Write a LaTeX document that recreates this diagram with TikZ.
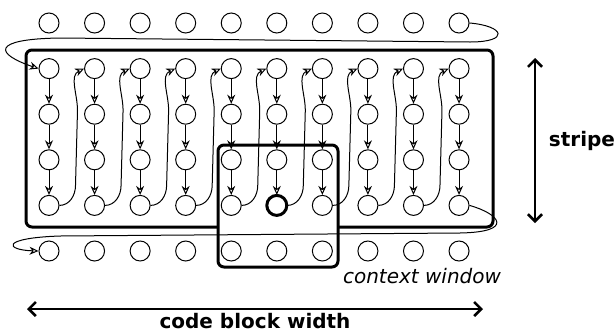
\documentclass[tikz,border=0pt]{standalone}
\usepackage{fontspec}
\setmainfont{DejaVu Sans}
\usetikzlibrary{arrows.meta}
\tikzset{
  cell/.style={circle,draw,minimum size=10pt,inner sep=0pt,line width=0.5pt},
  hot/.style={line width=1.5pt},
  link/.style={-{Stealth[open,length=4.5pt,width=4pt]},line width=0.5pt},
  frame/.style={rounded corners=3pt,line width=1.5pt},
  span/.style={{Straight Barb[length=3.5pt,width=7pt]}-{Straight Barb[length=3.5pt,width=7pt]},line width=1.3pt},
}
\begin{document}
\begin{tikzpicture}[x=0.5pt,y=-0.5pt]
\useasboundingbox (0,0) rectangle (616,333);
\draw[frame] (26,50) rectangle (493,227);
\draw[frame,fill=white] (218,145) rectangle (338,267);
\foreach \r in {0,...,5}
\foreach \i in {1,...,10}
\node[cell] (c-\r-\i) at ({49+45.56*(\i-1)},{23+45.6*\r}) {};
\node[cell,hot] (hl) at (c-4-6) {};
% down each column
\foreach \i in {1,...,10}
\foreach \r [count=\s from 2] in {1,2,3}
\draw[link] (c-\r-\i) -- (c-\s-\i);
% bottom of a column to top of the next
\foreach \i [count=\j from 2] in {1,...,9}
\draw[link] (c-4-\i.east) to[out=0,in=-90] ++(16,-20) -- ++(2,-75) to[out=90,in=205] (c-1-\j.west);
% wrap rows
\draw[link] (c-0-10.east) .. controls (505,26) and (510,42) .. (470,42) -- (60,38) .. controls (-10,39) and (-5,54) .. (c-1-1.west);
\draw[link] (c-4-10.east) .. controls (500,214) and (515,232) .. (460,233) -- (60,236) .. controls (0,238) and (5,250) .. (c-5-1.west);
\coordinate (st-a) at (535,58);
\coordinate (st-b) at (535,223);
\draw[span] (st-a) -- (st-b) node[midway,right=3pt,font=\bfseries] (stripe) {stripe};
\node[font=\itshape] (ctx) at (422,276) {context window};
\coordinate (w-a) at (27,309);
\coordinate (w-b) at (483,309);
\draw[span] (w-a) -- (w-b);
\node[font=\bfseries] (cbw) at (255,321) {code block width};
\end{tikzpicture}
\end{document}
